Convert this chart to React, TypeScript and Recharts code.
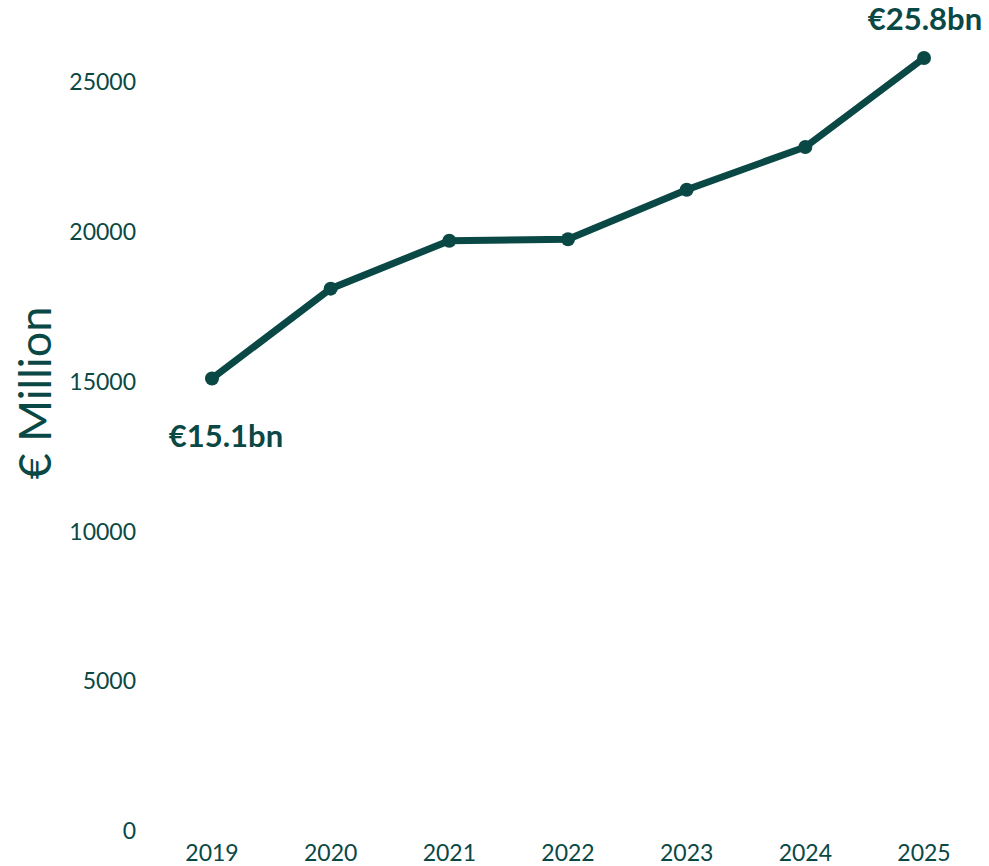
import React from 'react';
import { LineChart, Line, XAxis, YAxis, Label } from 'recharts';

const years = ['2019', '2020', '2021', '2022', '2023', '2024', '2025'];
const values = [15100, 18100, 19700, 19750, 21400, 22830, 25800];
const pointLabels = ['€15.1bn', '', '', '', '', '', '€25.8bn'];
const yTicks = [0, 5000, 10000, 15000, 20000, 25000];

const COLOR = '#0a4845';
const FONT = 'Lato, "Noto Sans", sans-serif';

const data = years.map((year, i) => ({ year, value: values[i], label: pointLabels[i] }));

const PointLabel = (props: any) => {
  const { x, y, index } = props;
  const text = pointLabels[index];
  if (!text) return null;
  const below = index === 0;
  return (
    <text
      x={x + (below ? 14 : 1)}
      y={y + (below ? 68 : -28)}
      textAnchor="middle"
      fill={COLOR}
      fontFamily={FONT}
      fontWeight={700}
      fontSize={31}
    >
      {text}
    </text>
  );
};

const AxisTitle = () => (
  <text
    x={51}
    y={393}
    transform="rotate(-90 51 393)"
    textAnchor="middle"
    fill={COLOR}
    fontFamily={FONT}
    fontSize={45}
  >
    € Million
  </text>
);

const App: React.FC = () => {
  return (
    <div style={{ position: 'absolute', left: 0, top: 0, width: 989, height: 866, background: '#fff' }}>
      <LineChart width={989} height={866} data={data} margin={{ top: 22, right: 25, bottom: 0, left: 0 }}>
        <XAxis
          dataKey="year"
          axisLine={false}
          tickLine={false}
          tickSize={0}
          tickMargin={14}
          height={35}
          padding={{ left: 62, right: 40 }}
          tick={{ fill: COLOR, fontSize: 23, fontFamily: FONT }}
        />
        <YAxis
          domain={[0, 27000]}
          ticks={yTicks}
          axisLine={false}
          tickLine={false}
          tickSize={0}
          tickMargin={14}
          width={150}
          tick={{ fill: COLOR, fontSize: 23, fontFamily: FONT }}
        >
          <Label content={<AxisTitle />} />
        </YAxis>
        <Line
          type="linear"
          dataKey="value"
          stroke={COLOR}
          strokeWidth={7}
          dot={{ r: 7, fill: COLOR, stroke: COLOR, strokeWidth: 0 }}
          activeDot={false}
          label={<PointLabel />}
          isAnimationActive={false}
        />
      </LineChart>
    </div>
  );
};

export default App;
